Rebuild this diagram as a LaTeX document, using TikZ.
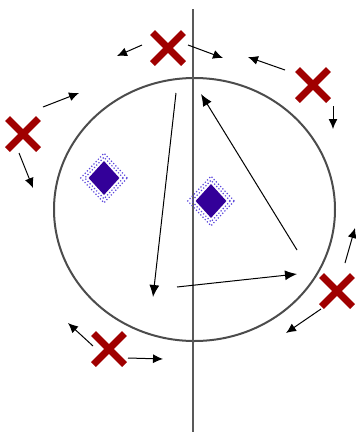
\documentclass[tikz,border=0pt]{standalone}
\usetikzlibrary{shapes.misc,shapes.geometric,arrows.meta}
\definecolor{xred}{RGB}{160,0,0}
\definecolor{gemblue}{RGB}{51,0,153}
\definecolor{ringblue}{RGB}{90,70,220}
\tikzset{
  xmark/.style={cross out,draw=xred,line width=7pt,minimum size=24pt,inner sep=0pt},
  gemfill/.style={diamond,fill=gemblue,inner sep=0pt,minimum width=31pt,minimum height=34pt},
  gemring/.style={diamond,draw=ringblue,dotted,line width=1.2pt,inner sep=0pt},
  small/.style={-{Latex[length=10pt,width=9pt]},line width=1pt,black},
  long/.style={-{Latex[length=12pt,width=10pt]},line width=1pt,black},
  axisline/.style={draw=black!65,line width=2.5pt},
  ring/.style={draw=black!70,line width=2pt}
}
\begin{document}
\begin{tikzpicture}[x=1pt,y=-1pt]
\useasboundingbox (0,0) rectangle (356,432);
% circle and axis
\node[ellipse,ring,minimum width=281pt,minimum height=263pt,inner sep=0pt] (orb) at (194.5,209.5) {};
\coordinate (axtop) at (193,9);
\coordinate (axbot) at (193,432);
\draw[axisline] (axtop) -- (axbot);
% gems
\node[gemfill] (g1) at (104,178) {};
\node[gemring,minimum width=39pt,minimum height=42pt] (g1a) at (g1) {};
\node[gemring,minimum width=47pt,minimum height=50pt] (g1b) at (g1) {};
\node[gemfill] (g2) at (211,201) {};
\node[gemring,minimum width=39pt,minimum height=42pt] (g2a) at (g2) {};
\node[gemring,minimum width=47pt,minimum height=50pt] (g2b) at (g2) {};
% crosses
\node[xmark] (xt) at (168,48) {};
\node[xmark] (xtr) at (313,85) {};
\node[xmark] (xl) at (23,134) {};
\node[xmark] (xr) at (337,291) {};
\node[xmark] (xb) at (109,349) {};
% small arrow coordinates
\coordinate (a1s) at (142,45);  \coordinate (a1e) at (117,56);
\coordinate (a2s) at (188,45);  \coordinate (a2e) at (223,58);
\coordinate (a3s) at (285,70);  \coordinate (a3e) at (248,57);
\coordinate (a4s) at (333,106); \coordinate (a4e) at (333,129);
\coordinate (a5s) at (43,107);  \coordinate (a5e) at (79,93);
\coordinate (a6s) at (19,153);  \coordinate (a6e) at (33,188);
\coordinate (a7s) at (345,263); \coordinate (a7e) at (355,228);
\coordinate (a8s) at (321,309); \coordinate (a8e) at (286,333);
\coordinate (a9s) at (93,346);  \coordinate (a9e) at (68,323);
\coordinate (a10s) at (128,358); \coordinate (a10e) at (163,359);
\draw[small] (a1s) -- (a1e);
\draw[small] (a2s) -- (a2e);
\draw[small] (a3s) -- (a3e);
\draw[small] (a4s) -- (a4e);
\draw[small] (a5s) -- (a5e);
\draw[small] (a6s) -- (a6e);
\draw[small] (a7s) -- (a7e);
\draw[small] (a8s) -- (a8e);
\draw[small] (a9s) -- (a9e);
\draw[small] (a10s) -- (a10e);
% interior triangle of arrows
\coordinate (p1) at (176,93);
\coordinate (p2) at (153,297);
\coordinate (p3) at (177,287);
\coordinate (p4) at (297,274);
\coordinate (p5) at (297,250);
\coordinate (p6) at (201,94);
\draw[long] (p1) -- (p2);
\draw[long] (p3) -- (p4);
\draw[long] (p5) -- (p6);
\end{tikzpicture}
\end{document}
